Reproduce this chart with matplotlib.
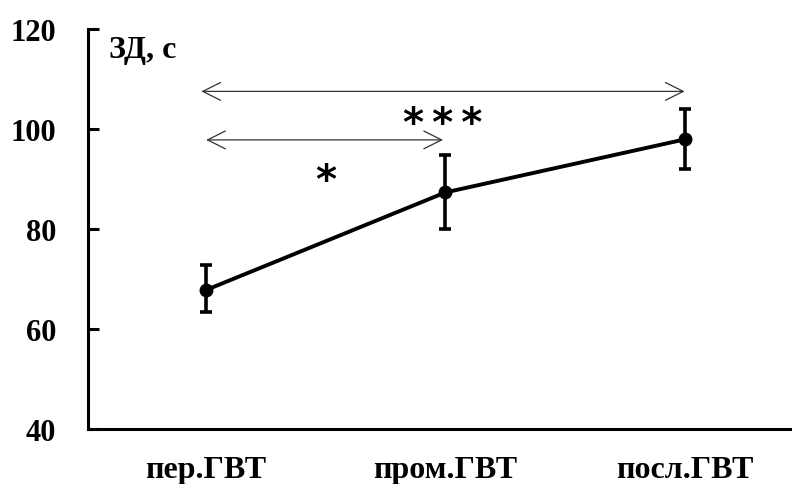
import matplotlib.pyplot as plt

# данные
groups = ['пер.ГВТ', 'пром.ГВТ', 'посл.ГВТ']
zd_mean = [67.8, 87.3, 97.9]
err_low = [4.4, 7.3, 6.0]
err_high = [5.0, 7.5, 6.1]

plt.rcParams['font.family'] = ['Liberation Serif', 'DejaVu Serif']
plt.rcParams['font.weight'] = 'bold'

fig = plt.figure(figsize=(7.94, 4.85), dpi=100)
ax = fig.add_axes([0.1108, 0.1134, 0.884, 0.825])

x = list(range(len(groups)))
ax.errorbar(x, zd_mean, yerr=[err_low, err_high], color='black', lw=2.8,
            marker='o', ms=9, elinewidth=2.6, capsize=4, capthick=2.6)

ax.set_xlim(-0.494, 2.44)
ax.set_ylim(40, 120)
ax.set_yticks([40, 60, 80, 100, 120])
ax.set_xticks(x)
ax.set_xticklabels(groups)

for s in ['top', 'right']:
    ax.spines[s].set_visible(False)
for s in ['left', 'bottom']:
    ax.spines[s].set_linewidth(2.2)

ax.tick_params(axis='y', direction='in', length=8, width=2.2, pad=23, labelsize=22)
ax.tick_params(axis='x', length=0, pad=19, labelsize=23)
for lab in ax.get_xticklabels() + ax.get_yticklabels():
    lab.set_fontweight('bold')

# стрелки значимости
ax.annotate('', xy=(-0.02, 107.5), xytext=(2.0, 107.5),
            arrowprops=dict(arrowstyle='<->', color='#333333', lw=0.9,
                            mutation_scale=32, shrinkA=0, shrinkB=0))
ax.annotate('', xy=(0.0, 97.8), xytext=(0.99, 97.8),
            arrowprops=dict(arrowstyle='<->', color='#333333', lw=0.9,
                            mutation_scale=32, shrinkA=0, shrinkB=0))
ax.text(0.99, 101.0, '*\u2009*\u2009*', ha='center', va='center', fontsize=29,
        fontweight='bold', family='DejaVu Sans')
ax.text(0.5, 89.5, '*', ha='center', va='center', fontsize=29,
        fontweight='bold', family='DejaVu Sans')

ax.text(0.03, 0.985, 'ЗД, с', transform=ax.transAxes, ha='left', va='top',
        fontsize=23, fontweight='bold')

fig.savefig('out.png', dpi=100)
